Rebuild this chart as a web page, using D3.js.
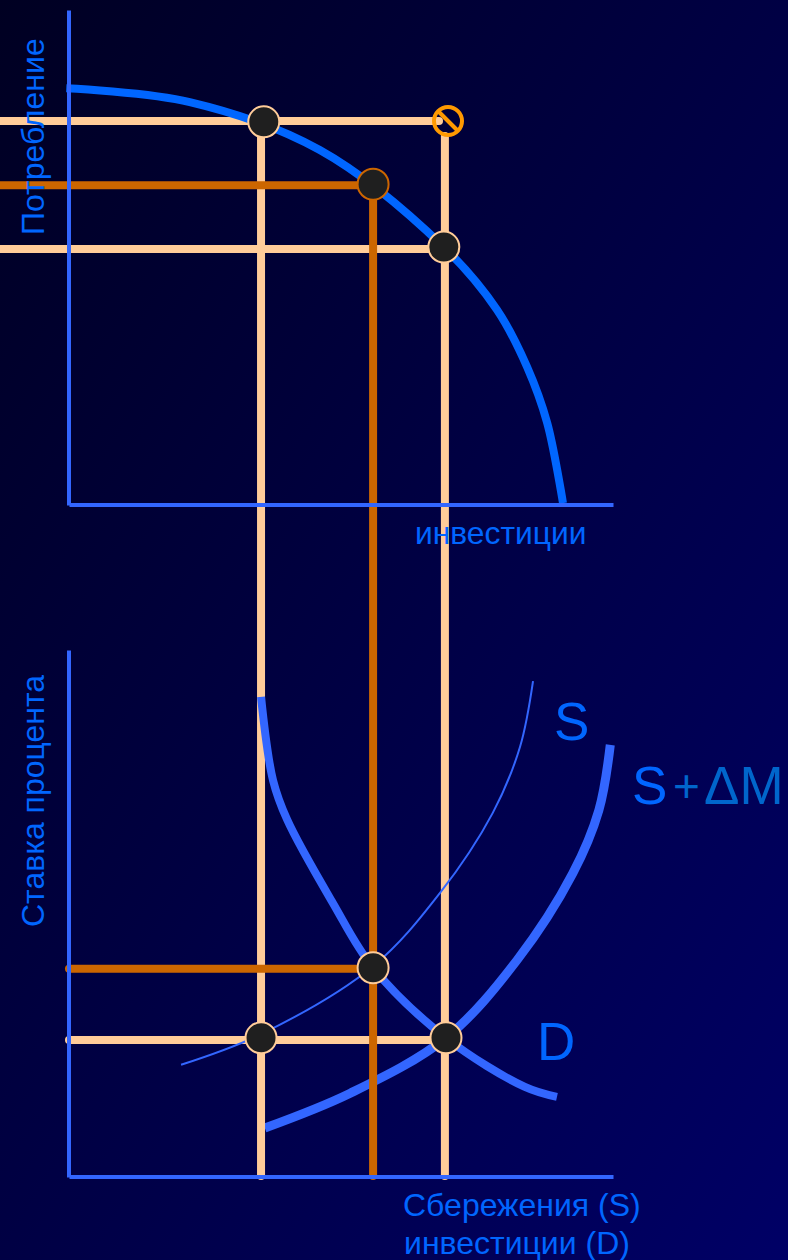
<!DOCTYPE html>
<html><head><meta charset="utf-8">
<script src="https://cdn.jsdelivr.net/npm/d3@7"></script>
<style>html,body{margin:0;padding:0;background:#000044}svg{display:block}text{font-family:"Liberation Sans",Arial,sans-serif}</style>
</head><body><script>
// Data (chart units, 0-100 on each axis)
const frontierX=[-0.5,22.2,46.1,68.9,78.7,84.2,87.9,90.8];
const frontierY=[84.2,81.4,71.7,52.1,39.4,27.9,16.6,0.4];
const demandX=[35.3,37.5,40.1,48.5,55.9,69.3,83.8,89.7];
const demandY=[91.1,75.3,67.8,52,39.7,26.4,17.1,15.2];
const supplyX=[20.6,35.3,55.9,68.2,77.9,82.9,85.3];
const supplyY=[21.3,27.1,40,53.9,69.1,81.6,94.1];
const supply2X=[36,51.7,69.3,82.4,92.6,97.4,99.5];
const supply2Y=[9.3,15.9,26.4,41.2,57.6,69.6,82];
const levelX=[35.3,55.9,69.1];
const topLevels=[77.6,64.6,51.7];
const bottomLevels=[39.5,26.0];
const topDotsX=[35.8,55.9,68.9], topDotsY=[77.4,64.8,52.1];
const bottomDotsX=[35.3,55.9,69.3], bottomDotsY=[26.4,39.7,26.4];
const labels={top:"Потребление",invest:"инвестиции",rate:"Ставка процента",sav:"Сбережения (S)",inv:"инвестиции (D)"};

const W=788,H=1260;
const x=d3.scaleLinear().domain([0,100]).range([69,613]);
const yT=d3.scaleLinear().domain([0,100]).range([505,10]);
const yB=d3.scaleLinear().domain([0,100]).range([1177,650]);
const svg=d3.select("body").append("svg").attr("width",W).attr("height",H);
const grad=svg.append("defs").append("linearGradient").attr("id","bg").attr("x1",0).attr("y1",0).attr("x2",1).attr("y2",1);
grad.append("stop").attr("offset",0).attr("stop-color","#000022");
grad.append("stop").attr("offset",1).attr("stop-color","#000066");
svg.append("rect").attr("width",W).attr("height",H).attr("fill","url(#bg)");

const peach="#ffcc99",orange="#cc6600",blue="#3366ff",bright="#0066ff";
const curve=(xs,ys,yS)=>d3.line().curve(d3.curveCatmullRom.alpha(.5)).x(i=>x(xs[i])).y(i=>yS(ys[i]))(d3.range(xs.length));
const path=(d,c,w)=>svg.append("path").attr("d",d).attr("fill","none").attr("stroke",c).attr("stroke-width",w);
const seg=(x1,y1,x2,y2,c)=>svg.append("line").attr("x1",x1).attr("y1",y1).attr("x2",x2).attr("y2",y2).attr("stroke",c).attr("stroke-width",8).attr("stroke-linecap","round");

// thick shifted supply sits under the guides
path(curve(supply2X,supply2Y,yB),blue,9);

// guides
seg(x(levelX[0]),yT(topLevels[0]),x(levelX[0]),1176,peach);
seg(x(levelX[2]),136,x(levelX[2]),1176,peach);
seg(0,yT(topLevels[0]),439,yT(topLevels[0]),peach);
seg(0,yT(topLevels[2]),x(levelX[2]),yT(topLevels[2]),peach);
seg(69,yB(bottomLevels[1]),x(levelX[2]),yB(bottomLevels[1]),peach);
seg(x(levelX[1]),yT(topLevels[1]),x(levelX[1]),1176,orange);
seg(0,yT(topLevels[1]),x(levelX[1]),yT(topLevels[1]),orange);
seg(69,yB(bottomLevels[0]),x(levelX[1]),yB(bottomLevels[0]),orange);

// curves
path(curve(frontierX,frontierY,yT),bright,8);
path(curve(demandX,demandY,yB),blue,8);
path(curve(supplyX,supplyY,yB),blue,2);

// axes
const axis=(g,a)=>{g.call(a);g.select(".domain").attr("stroke",blue).attr("stroke-width",4);};
const mk=a=>a.tickValues([]).tickSize(0).tickSizeOuter(0);
axis(svg.append("g").attr("transform","translate(68.5,0)"),mk(d3.axisLeft(yT)));
axis(svg.append("g").attr("transform","translate(68.5,0)"),mk(d3.axisLeft(yB)));
axis(svg.append("g").attr("transform","translate(0,504.5)"),mk(d3.axisBottom(x)));
axis(svg.append("g").attr("transform","translate(0,1176.5)"),mk(d3.axisBottom(x)));

// markers
const dot=(cx,cy,c)=>svg.append("circle").attr("cx",cx).attr("cy",cy).attr("r",15.5).attr("fill","#1f1f1f").attr("stroke",c).attr("stroke-width",2);
topDotsX.forEach((d,i)=>dot(x(d),yT(topDotsY[i]),i==1?orange:peach));
bottomDotsX.forEach((d,i)=>dot(x(d),yB(bottomDotsY[i]),peach));
const nx=448,ny=121;
svg.append("circle").attr("cx",nx).attr("cy",ny).attr("r",14).attr("fill","none").attr("stroke","#ff9900").attr("stroke-width",4);
svg.append("line").attr("x1",nx-10).attr("y1",ny-10).attr("x2",nx+10).attr("y2",ny+10).attr("stroke","#ff9900").attr("stroke-width",4);

// text
const txt=(t,tx,ty,s,c,rot)=>svg.append("text").text(t).attr("x",tx).attr("y",ty).attr("font-size",s).attr("fill",c||bright).attr("transform",rot?`rotate(-90 ${tx} ${ty})`:null);
txt(labels.top,44,235,32,bright,true);
txt(labels.rate,44,927,32,bright,true);
txt(labels.invest,415,544,31.8);
txt(labels.sav,403,1216,32);
txt(labels.inv,404,1253.5,32);
txt("S",554,740,53);
txt("D",537,1060,53);
txt("S",632,804,53);
txt("+",673,802,46,"#0066cc");
txt("ΔM",704,804,53,"#0066cc");
</script></body></html>
